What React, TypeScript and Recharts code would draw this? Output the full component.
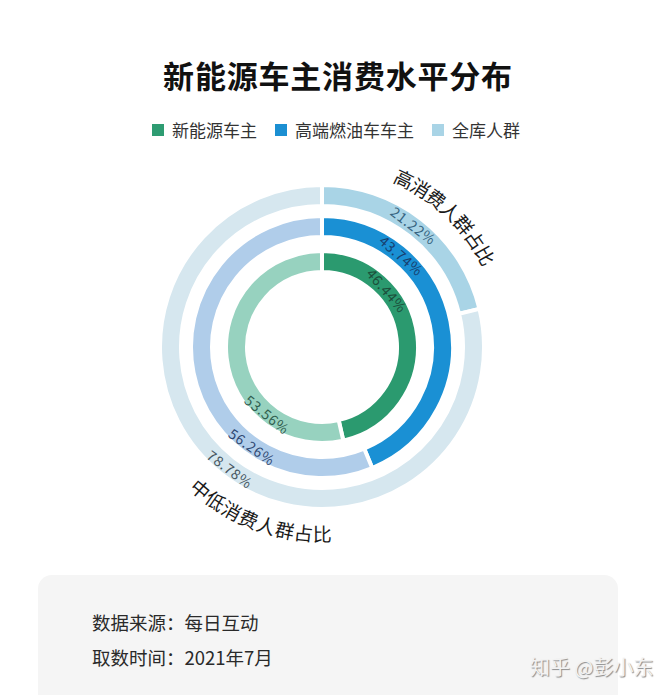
import { PieChart, Pie, Cell } from "recharts";

const rings = ["新能源车主", "高端燃油车车主", "全库人群"];
const highShare = [46.44, 43.74, 21.22];
const lowShare = [53.56, 56.26, 78.78];
const segmentNames = ["高消费人群占比", "中低消费人群占比"];
const sourceLines = ["数据来源：每日互动", "取数时间：2021年7月"];

const legendColors = ["#2e9c72", "#1b8fd2", "#a9d4e6"];
const ringColors = [
  ["#2b9a6f", "#97d2bf"],
  ["#1a90d4", "#b0cdea"],
  ["#a9d4e6", "#d6e7ef"],
];
const labelColors = [
  ["#1c4f3b", "#2f5d4e"],
  ["#173e6e", "#2d4670"],
  ["#35637f", "#46565f"],
];
// inner → outer: [innerRadius, outerRadius]
const radii = [
  [75, 96],
  [110, 131],
  [141, 162],
];
const labelAngles = [
  [49, 219],
  [41, 215],
  [37, 217],
];

const CX = 317;
const CY = 342;
const FONT = '"Noto Sans CJK SC", "Noto Sans", sans-serif';

const polar = (cx: number, cy: number, r: number, deg: number) => {
  const a = (deg * Math.PI) / 180;
  return { x: cx + r * Math.sin(a), y: cy - r * Math.cos(a) };
};

function ArcTitle({ cx, cy, text, r, start, step, bottom }: any) {
  const chars = Array.from(text as string);
  return (
    <g>
      {chars.map((ch, i) => {
        const deg = bottom ? start - i * step : start + i * step;
        const p = polar(cx, cy, r, deg);
        const rot = bottom ? deg - 180 : deg;
        return (
          <text
            key={i}
            x={p.x}
            y={p.y}
            fill="#1a1a1a"
            fontSize={19}
            fontFamily={FONT}
            textAnchor="middle"
            dominantBaseline="central"
            transform={`rotate(${rot} ${p.x} ${p.y})`}
          >
            {ch}
          </text>
        );
      })}
    </g>
  );
}

const makeLabel = (ring: number) => (props: any) => {
  const { cx, cy, index, value } = props;
  const [ir, or] = radii[ring];
  const deg = labelAngles[ring][index];
  const p = polar(cx, cy, (ir + or) / 2 + 1, deg);
  const rot = index === 0 ? deg : deg - 180;
  return (
    <g>
      <text
        x={p.x}
        y={p.y}
        fill={labelColors[ring][index]}
        fontSize={14}
        letterSpacing={0.8}
        fontFamily={FONT}
        textAnchor="middle"
        dominantBaseline="central"
        transform={`rotate(${rot} ${p.x} ${p.y})`}
      >
        {`${value.toFixed(2)}%`}
      </text>
      {ring === 2 && index === 0 && (
        <ArcTitle cx={cx} cy={cy} text={segmentNames[0]} r={188} start={26} step={5.8} />
      )}
      {ring === 2 && index === 1 && (
        <ArcTitle cx={cx} cy={cy} text={segmentNames[1]} r={186} start={220.5} step={5.8} bottom />
      )}
    </g>
  );
};

export default function App() {
  return (
    <div
      style={{
        position: "absolute",
        left: 0,
        top: 0,
        width: 670,
        height: 695,
        overflow: "hidden",
        background: "#fff",
        fontFamily: FONT,
      }}
    >
      <div
        style={{
          position: "absolute",
          left: 0,
          width: 676,
          top: 54,
          textAlign: "center",
          fontSize: 31,
          fontWeight: 700,
          color: "#111",
          letterSpacing: 0.8,
          lineHeight: "42px",
        }}
      >
        新能源车主消费水平分布
      </div>
      <div
        style={{
          position: "absolute",
          left: 152,
          top: 118,
          display: "flex",
          alignItems: "center",
          gap: 18,
          fontSize: 17,
          color: "#333",
          lineHeight: "24px",
        }}
      >
        {rings.map((name, i) => (
          <div key={name} style={{ display: "flex", alignItems: "center", gap: 8 }}>
            <span style={{ width: 12, height: 12, background: legendColors[i], display: "inline-block" }} />
            <span>{name}</span>
          </div>
        ))}
      </div>
      <div style={{ position: "absolute", left: 0, top: 0 }}>
        <PieChart width={670} height={560}>
          {rings.map((name, ring) => (
            <Pie
              key={name}
              data={[
                { name: segmentNames[0], value: highShare[ring] },
                { name: segmentNames[1], value: lowShare[ring] },
              ]}
              dataKey="value"
              cx={CX}
              cy={CY}
              innerRadius={radii[ring][0]}
              outerRadius={radii[ring][1]}
              startAngle={90}
              endAngle={-270}
              stroke="#fff"
              strokeWidth={4}
              label={makeLabel(ring)}
              labelLine={false}
              isAnimationActive={false}
            >
              {ringColors[ring].map((c, i) => (
                <Cell key={i} fill={c} />
              ))}
            </Pie>
          ))}
        </PieChart>
      </div>
      <div
        style={{
          position: "absolute",
          left: 38,
          top: 575,
          width: 580,
          height: 150,
          borderRadius: 14,
          background: "#f5f5f5",
        }}
      />
      {sourceLines.map((line, i) => (
        <div
          key={line}
          style={{
            position: "absolute",
            left: 92,
            top: 609 + i * 35,
            fontSize: 18.5,
            lineHeight: "26px",
            color: "#2a2a2a",
          }}
        >
          {line}
        </div>
      ))}
      <div
        style={{
          position: "absolute",
          left: 530,
          top: 653,
          fontSize: 20,
          lineHeight: "28px",
          color: "#f2f2f2",
          textShadow: "1px 1px 1px #8a8a8a",
        }}
      >
        知乎 @彭小东
      </div>
    </div>
  );
}
